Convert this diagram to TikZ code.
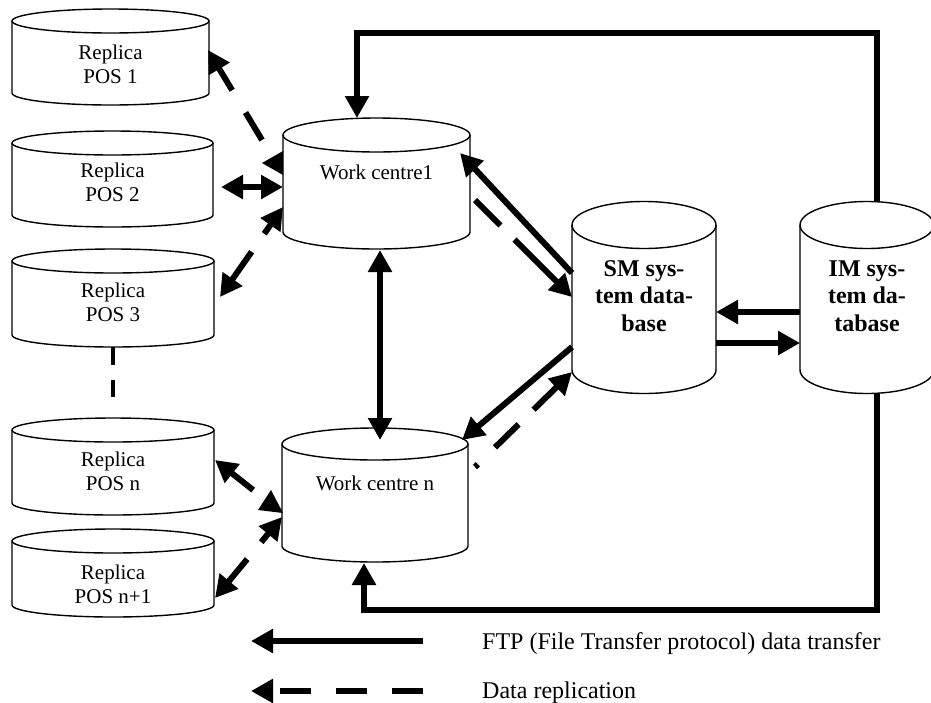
\documentclass[tikz,border=0pt]{standalone}
\usepackage{fontspec}
\setmainfont{Liberation Serif}
\usetikzlibrary{arrows.meta,calc}

% Database drum: name, centre x, top-ellipse y, bottom-ellipse y, x radius, y radius
\newcommand\dbdrum[6]{%
  \pgfmathsetmacro\dbw{2*#5}%
  \pgfmathsetmacro\dbh{#4-#3+2*#6}%
  \pgfmathsetmacro\dbc{(#3+#4)/2}%
  \node[drumbox, minimum width=\dbw pt, minimum height=\dbh pt] (#1) at (#2,\dbc) {};
  \draw[drum] ({#2-#5},#3) -- ({#2-#5},#4)
     arc[start angle=180, end angle=360, x radius=#5pt, y radius=#6pt] -- ({#2+#5},#3);
  \draw[drum] (#2,#3) ellipse[x radius=#5pt, y radius=#6pt];
}

\begin{document}
\begin{tikzpicture}[x=1pt, y=-1pt,
  drum/.style={line width=1.4pt, fill=white},
  drumbox/.style={draw=none, inner sep=0pt, outer sep=0pt},
  poslbl/.style={align=center, inner sep=0pt, font=\fontsize{21}{24}\selectfont},
  dblbl/.style={align=center, inner sep=0pt, font=\bfseries\fontsize{24}{27.5}\selectfont},
  keylbl/.style={anchor=base west, inner sep=0pt, font=\fontsize{24}{27}\selectfont},
  ftp/.style={line width=6pt, line join=miter, -{Triangle[length=22pt,width=23pt]}},
  ftpboth/.style={line width=6pt, {Triangle[length=22pt,width=23pt]}-{Triangle[length=22pt,width=23pt]}},
  repl/.style={ftp, dash pattern=on 31pt off 25pt},
  replboth/.style={ftpboth, dash pattern=on 12pt off 22pt on 200pt},
  head/.style={fill=black},
]
\useasboundingbox (0,0) rectangle (931,702);

% replica databases of the points of sale
\dbdrum{pos1}{110.5}{21}{93}{98.5}{12}
\dbdrum{pos2}{112.5}{143}{215}{100.5}{12}
\dbdrum{pos3}{113}{261}{335}{101}{12}
\dbdrum{posn}{113}{430}{503}{101}{12}
\dbdrum{posm}{113}{541}{605}{101}{12}
\node[poslbl] (pos1-t) at (110.5,64) {Replica\\POS 1};
\node[poslbl] (pos2-t) at (112.5,182.5) {Replica\\POS 2};
\node[poslbl] (pos3-t) at (113,302.5) {Replica\\POS 3};
\node[poslbl] (posn-t) at (113,471) {Replica\\POS n};
\node[poslbl] (posm-t) at (113,584) {Replica\\POS n+1};

% work centres
\dbdrum{wc1}{376.5}{135}{232}{93.5}{17}
\dbdrum{wcn}{375}{444}{546}{93}{16}
\node[poslbl] (wc1-t) at (376.5,172) {Work centre1};
\node[poslbl] (wcn-t) at (375,483) {Work centre n};

% central system databases
\dbdrum{sm}{644}{225}{370}{72}{23.5}
\dbdrum{im}{867}{225}{370}{67}{23.5}
\node[dblbl] (sm-t) at (644,296) {SM sys-\\tem data-\\base};
\node[dblbl] (im-t) at (867,296) {IM sys-\\tem da-\\tabase};

% gap between POS 3 and POS n
\draw[line width=4.5pt, dash pattern=on 18pt off 15pt on 17pt off 40pt] (pos3.south) -- (posn.north);

% POS <-> work centre 1
\draw[ftp, dash pattern=on 32pt off 26pt on 200pt] ($(wc1.north west)+(-21,22)$) -- ($(pos1.north east)+(-1,41)$);
\fill[head] ($(wc1.north west)+(0,33)$) -- ($(wc1.north west)+(-21,45)$) -- ($(wc1.north west)+(0,57)$) -- cycle;
\draw[ftpboth] ($(pos2.east)+(8,8)$) -- ($(wc1.north west)+(0,69)$);
\draw[replboth] ($(wc1.north west)+(0,89)$) -- ($(pos3.north east)+(6,48)$);

% POS <-> work centre n
\draw[ftp, shorten <=29pt] ($(wcn.north west)+(-6,80)$) -- ($(posn.north east)+(1,42)$);
\fill[head] ($(wcn.north west)+(-11,62)$) -- ($(wcn.north west)+(-24,82)$) -- ($(wcn.north west)+(1,85)$) -- cycle;
\draw[replboth] ($(wcn.north west)+(0,89)$) -- ($(posm.north east)+(1,69)$);

% work centre 1 <-> work centre n
\draw[ftpboth] ($(wc1.south)+(3.5,1)$) -- ($(wcn.north)+(5,12)$);

% work centres <-> SM system database
\draw[ftp] ($(sm.north west)+(0,71.5)$) -- ($(wc1.north east)+(-10,35)$);
\draw[ftp, dash pattern=on 36pt off 20pt on 200pt] ($(wc1.north east)+(5,82)$) -- ($(sm.west)+(0,-0.5)$);
\draw[ftp] ($(sm.west)+(0,49.5)$) -- ($(wcn.north east)+(-6,12)$);
\draw[ftp, dash pattern=on 4pt off 24pt on 33pt off 21pt on 200pt] ($(wcn.north east)+(7,39)$) -- ($(sm.west)+(0,74.5)$);

% SM <-> IM
\draw[ftp] ($(im.west)+(0,14.5)$) -- ($(sm.east)+(0,14.5)$);
\draw[ftp] ($(sm.east)+(0,45.5)$) -- ($(im.west)+(0,45.5)$);

% IM feeds both work centres
\draw[ftp] ($(im.north)+(10,0.5)$) |- ($(wc1.north west)+(74,-85)$) -- ($(wc1.north west)+(74,0)$);
\draw[ftp] ($(im.south)+(10,-0.5)$) |- ($(wcn.south)+(-11,48)$) -- ($(wcn.south)+(-11,1)$);

% key
\coordinate (k1a) at (423,641);
\coordinate (k1b) at (251,641);
\coordinate (k2a) at (423,691);
\coordinate (k2b) at (251,691);
\draw[ftp] (k1a) -- (k1b);
\draw[repl] (k2a) -- (k2b);
\node[keylbl] (k1-t) at (482,649) {FTP (File Transfer protocol) data transfer};
\node[keylbl] (k2-t) at (482,698) {Data replication};
\end{tikzpicture}
\end{document}
